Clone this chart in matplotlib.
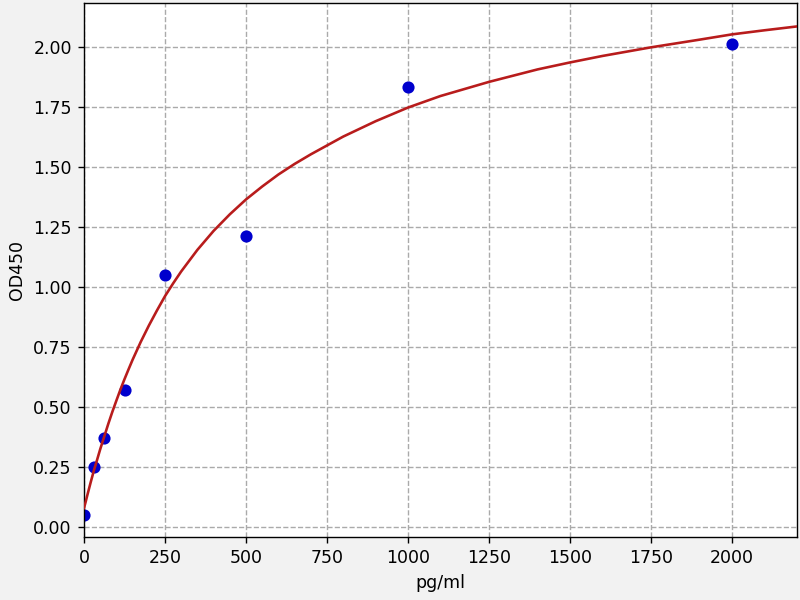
import numpy as np
import matplotlib
matplotlib.use('Agg')
import matplotlib.pyplot as plt

# standard points
conc = [0, 31.25, 62.5, 125, 250, 500, 1000, 2000]
od = [0.05, 0.25, 0.37, 0.57, 1.05, 1.215, 1.835, 2.015]

# fitted curve
curve_x = [0, 5, 10, 20, 31.25, 40, 50, 62.5, 75, 87.5, 100, 112.5, 125,
           137.5, 150, 175, 200, 225, 250, 275, 300, 350, 400, 450, 500,
           550, 600, 650, 700, 750, 800, 900, 1000, 1100, 1250, 1400, 1500,
           1600, 1750, 1900, 2000, 2100, 2200]
curve_y = [0.08, 0.105, 0.132, 0.184, 0.24, 0.279, 0.325, 0.378, 0.431,
           0.481, 0.528, 0.574, 0.617, 0.658, 0.698, 0.772, 0.84, 0.903,
           0.963, 1.016, 1.066, 1.156, 1.235, 1.304, 1.366, 1.42, 1.47,
           1.514, 1.554, 1.591, 1.628, 1.692, 1.749, 1.797, 1.856, 1.908,
           1.937, 1.964, 2.0, 2.032, 2.054, 2.071, 2.087]

fig = plt.figure(figsize=(6.4, 4.8), dpi=125, facecolor='#f2f2f2')
ax = fig.add_axes([0.105, 0.1045, 0.891, 0.891])
ax.set_facecolor('white')

ax.plot(conc, od, 'o', color='mediumblue', markersize=6, zorder=2)
ax.plot(curve_x, curve_y, color='#b81c1c', linewidth=1.5, zorder=3)

ax.set_xlim(0, 2200)
ax.set_ylim(-0.042, 2.186)
ax.set_xticks([0, 250, 500, 750, 1000, 1250, 1500, 1750, 2000])
ax.set_yticks(np.arange(0, 2.01, 0.25))
ax.yaxis.set_major_formatter(plt.FormatStrFormatter('%.2f'))
ax.grid(True, linestyle='--', color='#aaaaaa', linewidth=0.8)
ax.set_axisbelow(True)
ax.set_xlabel('pg/ml')
ax.set_ylabel('OD450')

fig.savefig('out.png', dpi=125, facecolor=fig.get_facecolor())
